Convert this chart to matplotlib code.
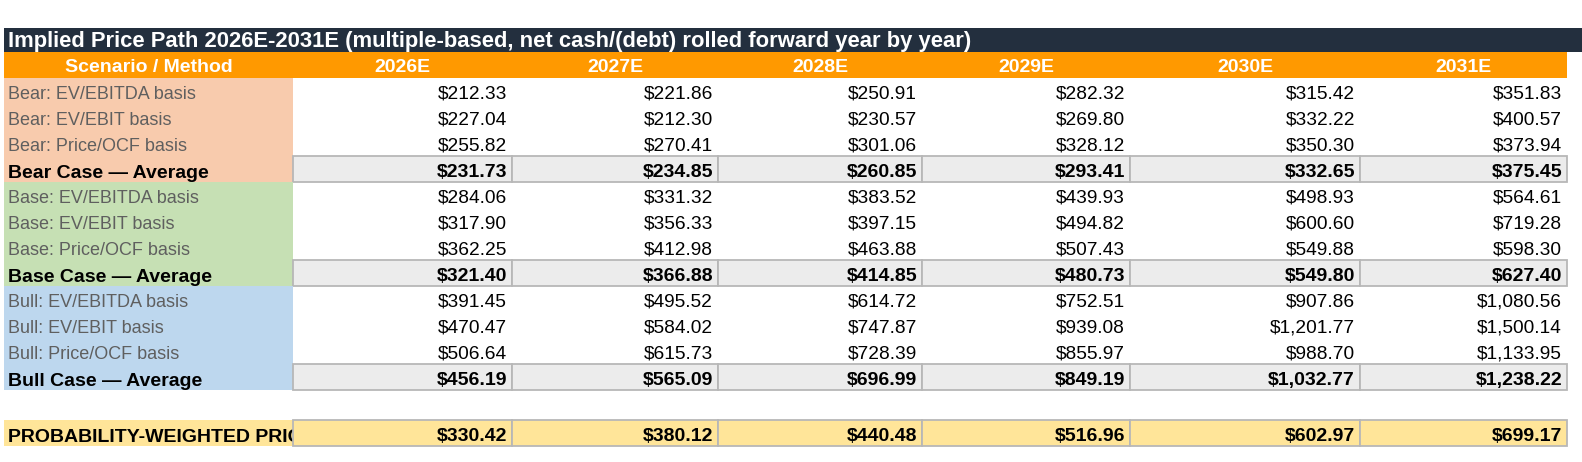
import matplotlib
matplotlib.use("Agg")
from matplotlib import pyplot as plt
from matplotlib.patches import Rectangle

plt.rcParams['font.family'] = ['Liberation Sans', 'DejaVu Sans']

title = "Implied Price Path 2026E-2031E (multiple-based, net cash/(debt) rolled forward year by year)"
header_label = "Scenario / Method"
years = ['2026E', '2027E', '2028E', '2029E', '2030E', '2031E']

bear_ebitda = [212.33, 221.86, 250.91, 282.32, 315.42, 351.83]
bear_ebit = [227.04, 212.30, 230.57, 269.80, 332.22, 400.57]
bear_ocf = [255.82, 270.41, 301.06, 328.12, 350.30, 373.94]
bear_avg = [231.73, 234.85, 260.85, 293.41, 332.65, 375.45]

base_ebitda = [284.06, 331.32, 383.52, 439.93, 498.93, 564.61]
base_ebit = [317.90, 356.33, 397.15, 494.82, 600.60, 719.28]
base_ocf = [362.25, 412.98, 463.88, 507.43, 549.88, 598.30]
base_avg = [321.40, 366.88, 414.85, 480.73, 549.80, 627.40]

bull_ebitda = [391.45, 495.52, 614.72, 752.51, 907.86, 1080.56]
bull_ebit = [470.47, 584.02, 747.87, 939.08, 1201.77, 1500.14]
bull_ocf = [506.64, 615.73, 728.39, 855.97, 988.70, 1133.95]
bull_avg = [456.19, 565.09, 696.99, 849.19, 1032.77, 1238.22]

prob_label = "PROBABILITY-WEIGHTED PRICE"
prob_weighted = [330.42, 380.12, 440.48, 516.96, 602.97, 699.17]

sections = [
    ('Bear', '#f8cbad', [bear_ebitda, bear_ebit, bear_ocf], bear_avg),
    ('Base', '#c6e0b4', [base_ebitda, base_ebit, base_ocf], base_avg),
    ('Bull', '#bdd7ee', [bull_ebitda, bull_ebit, bull_ocf], bull_avg),
]
methods = ['EV/EBITDA basis', 'EV/EBIT basis', 'Price/OCF basis']

# layout in pixels
W, H = 1582, 462
col_edges = [4, 293, 512, 718, 922, 1130, 1360, 1567]
row_h = 26
first_row = 78
border = '#b7b7b7'
avg_fill = '#ececec'

fs_title = 15.8
fs_head = 14
fs_label = 13
fs_val = 13.8
fs_bold = 14


def money(v):
    return '${:,.2f}'.format(v)


fig = plt.figure(figsize=(W / 100, H / 100), dpi=100)
ax = fig.add_axes([0, 0, 1, 1])
ax.set_xlim(0, W)
ax.set_ylim(H, 0)
ax.axis('off')

# title bar
ax.add_patch(Rectangle((4, 28), W - 4, 24, facecolor='#232f3e', edgecolor='none'))
ax.text(8, 47.5, title, color='white', fontsize=fs_title, fontweight='bold', va='baseline')

# header row
ax.add_patch(Rectangle((4, 52), col_edges[-1] - 4, 25.5, facecolor='#ff9900', edgecolor='none'))
ax.text((col_edges[0] + col_edges[1]) / 2, 71.5, header_label, color='white', fontsize=fs_head,
        fontweight='bold', ha='center', va='baseline')
for i, y in enumerate(years):
    ax.text((col_edges[i + 1] + col_edges[i + 2]) / 2, 71.5, y, color='white', fontsize=fs_head,
            fontweight='bold', ha='center', va='baseline')

top = first_row
for name, color, rows, avg in sections:
    ax.add_patch(Rectangle((col_edges[0], top), col_edges[1] - col_edges[0], row_h * 4,
                           facecolor=color, edgecolor='none'))
    for m, vals in zip(methods, rows):
        bottom = top + row_h
        ax.text(8, bottom - 5, name + ': ' + m, color='#5f5f5f', fontsize=fs_label, va='baseline')
        for i, v in enumerate(vals):
            ax.text(col_edges[i + 2] - 5, bottom - 5.5, money(v), color='black', fontsize=fs_val,
                    ha='right', va='baseline')
        top = bottom
    bottom = top + row_h
    ax.text(8, bottom - 4, name + ' Case \u2014 Average', color='black', fontsize=fs_bold,
            fontweight='bold', va='baseline')
    for i, v in enumerate(avg):
        ax.add_patch(Rectangle((col_edges[i + 1], top), col_edges[i + 2] - col_edges[i + 1], row_h,
                               facecolor=avg_fill, edgecolor=border, linewidth=1.3))
        ax.text(col_edges[i + 2] - 5, bottom - 5, money(v), color='black', fontsize=fs_bold,
                fontweight='bold', ha='right', va='baseline')
    top = bottom

# probability-weighted row (label overflows and gets covered by the first value cell)
ptop = top + 30
ax.add_patch(Rectangle((col_edges[0], ptop), col_edges[1] - col_edges[0], row_h,
                       facecolor='#ffe599', edgecolor='none', zorder=1))
ax.text(8, ptop + row_h - 4, prob_label, color='black', fontsize=fs_bold,
        fontweight='bold', va='baseline', zorder=2)
for i, v in enumerate(prob_weighted):
    ax.add_patch(Rectangle((col_edges[i + 1], ptop), col_edges[i + 2] - col_edges[i + 1], row_h,
                           facecolor='#ffe599', edgecolor=border, linewidth=1.3, zorder=3))
    ax.text(col_edges[i + 2] - 5, ptop + row_h - 5, money(v), color='black', fontsize=fs_bold,
            fontweight='bold', ha='right', va='baseline', zorder=4)

fig.savefig('out.png', dpi=100)
